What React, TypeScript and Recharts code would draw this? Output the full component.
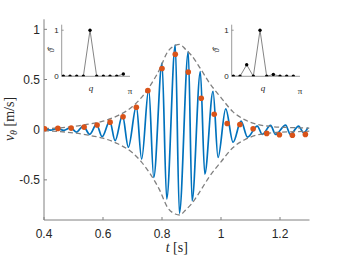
import React from 'react';
import { ComposedChart, LineChart, Line, Scatter, XAxis, YAxis, Label } from 'recharts';

// ---- main signal (peaks / troughs) ----
const signalT = [0.4, 0.423, 0.445, 0.467, 0.49, 0.51, 0.533, 0.555, 0.578, 0.597, 0.623, 0.641, 0.666, 0.686, 0.713, 0.731, 0.755, 0.772, 0.8, 0.816, 0.845, 0.859, 0.889, 0.902, 0.93, 0.945, 0.973, 0.99, 1.016, 1.041, 1.068, 1.09, 1.123, 1.14, 1.168, 1.185, 1.219, 1.235, 1.263, 1.28, 1.295];
const signalV = [0.0, -0.005, 0.013, -0.007, 0.02, -0.024, 0.036, -0.047, 0.052, -0.07, 0.085, -0.11, 0.142, -0.175, 0.234, -0.294, 0.406, -0.475, 0.663, -0.69, 0.845, -0.832, 0.778, -0.707, 0.58, -0.443, 0.382, -0.277, 0.208, -0.125, 0.085, -0.075, 0.036, -0.047, 0.043, -0.047, 0.046, -0.047, 0.036, -0.03, 0.02];

// ---- envelope ----
const envT = [0.4, 0.45, 0.5, 0.55, 0.6, 0.65, 0.7, 0.73, 0.76, 0.79, 0.82, 0.845, 0.86, 0.88, 0.9, 0.93, 0.96, 1.0, 1.04, 1.08, 1.12, 1.16, 1.2, 1.25, 1.3];
const envV = [0.01, 0.018, 0.032, 0.055, 0.085, 0.14, 0.23, 0.32, 0.44, 0.59, 0.78, 0.84, 0.85, 0.8, 0.74, 0.61, 0.47, 0.32, 0.18, 0.1, 0.055, 0.035, 0.025, 0.02, 0.015];

// ---- orange markers ----
const dotT = [0.402, 0.447, 0.492, 0.536, 0.58, 0.624, 0.668, 0.713, 0.752, 0.8, 0.845, 0.889, 0.933, 0.977, 1.021, 1.064, 1.109, 1.155, 1.198, 1.242, 1.286];
const dotV = [0.01, 0.013, 0.016, 0.026, 0.046, 0.075, 0.129, 0.224, 0.389, 0.61, 0.752, 0.574, 0.313, 0.154, 0.062, 0.052, 0.01, -0.037, -0.05, -0.056, -0.047];

const xTicks = [0.4, 0.6, 0.8, 1, 1.2];
const yTicks = [-0.5, 0, 0.5, 1];

// ---- insets ----
const insetQ = [0, 1, 2, 3, 4, 5, 6, 7, 8, 9];
const insetLeftV = [0, 0, 0, 0, 1, 0, 0, 0, 0, 0.05];
const insetRightV = [0, 0, 0.25, 0, 1, 0, 0.04, 0, 0, 0];
const insetXTicks = [10];
const insetYTicks = [0, 1];

const signal = signalT.map((t, i) => ({ t, v: signalV[i] }));
const envelope = envT.map((t, i) => ({ t, e: envV[i] }));
const dots = dotT.map((t, i) => ({ t, v: dotV[i] }));

const AXIS = '#808080';
const TXT = '#262626';
const SANS = 'Liberation Sans, Arial, sans-serif';
const SERIF = 'Liberation Serif, Times New Roman, serif';

const noTick = () => <g />;

const XTitle = (props: any) => {
  const vb = props.viewBox || { x: 44, width: 265 };
  return (
    <text x={vb.x + vb.width / 2} y={251.5} textAnchor="middle" fontFamily={SERIF} fontSize={14} fill={TXT}>
      <tspan fontStyle="italic">t</tspan> [s]
    </text>
  );
};

const YTitle = () => {
  const cx = 13.5;
  const cy = 119;
  return (
    <text transform={`rotate(-90 ${cx} ${cy})`} x={cx} y={cy} textAnchor="middle" fontFamily={SERIF} fontSize={14} fill={TXT}>
      <tspan fontStyle="italic">v</tspan>
      <tspan fontStyle="italic" fontSize={10} dy={3}>θ</tspan>
      <tspan dy={-3}> [m/s]</tspan>
    </text>
  );
};

const OrangeDot = (props: any) => <circle cx={props.cx} cy={props.cy} r={2.8} fill="#D95319" />;

function Inset({ values, left, thetaX, qX }: { values: number[]; left: number; thetaX: number; qX: number }) {
  const data = insetQ.map((q, i) => ({ q, v: values[i] }));
  const QTitle = () => (
    <text x={qX} y={75} textAnchor="middle" fontFamily={SERIF} fontStyle="italic" fontSize={9} fill={TXT}>q</text>
  );
  const ThTitle = () => {
    const cy = 34.5;
    return (
      <text transform={`rotate(-90 ${thetaX} ${cy})`} x={thetaX} y={cy} textAnchor="middle" fontFamily={SERIF} fontSize={9} fill={TXT}>ϑ̂</text>
    );
  };
  return (
    <div style={{ position: 'absolute', left, top: 16 }}>
      <LineChart width={100} height={82} data={data} margin={{ top: 8.7, right: 6, bottom: 0, left: 0 }}>
        <XAxis dataKey="q" type="number" domain={[-0.25, 10]} ticks={insetXTicks} allowDataOverflow
          tickFormatter={() => 'π'} height={21.7} tickLine={false} stroke={AXIS} strokeWidth={0.8}
          tickMargin={5.6} tick={{ fill: TXT, fontSize: 9, fontFamily: SERIF }}>
          <Label content={QTitle} />
        </XAxis>
        <YAxis type="number" domain={[0, 1.12]} ticks={insetYTicks} allowDataOverflow width={25.7}
          tickSize={-2} tickMargin={5} stroke={AXIS} strokeWidth={0.8}
          tick={{ fill: TXT, fontSize: 8, fontFamily: SANS }}>
          <Label content={ThTitle} />
        </YAxis>
        <Line dataKey="v" type="linear" stroke="#666" strokeWidth={0.8}
          dot={{ r: 1.7, fill: '#000', stroke: 'none' }} isAnimationActive={false} />
      </LineChart>
    </div>
  );
}

export default function App() {
  return (
    <div style={{ position: 'absolute', left: 0, top: 0, width: 342, height: 256, background: '#fff' }}>
      <ComposedChart width={342} height={256} margin={{ top: 19.3, right: 32.5, bottom: 0, left: 4 }}>
        <XAxis xAxisId="b" type="number" dataKey="t" domain={[0.4, 1.3]} ticks={xTicks} allowDataOverflow
          height={36} tickSize={-3} tickMargin={12.7} stroke={AXIS}
          tick={{ fill: TXT, fontSize: 12, fontFamily: SANS }}>
          <Label content={XTitle} />
        </XAxis>
        <XAxis xAxisId="top" orientation="top" type="number" dataKey="t" domain={[0.4, 1.3]} ticks={xTicks}
          allowDataOverflow height={0} tickSize={-3} stroke={AXIS} tick={noTick} />
        <YAxis yAxisId="l" type="number" domain={[-0.9, 1.1]} ticks={yTicks} allowDataOverflow width={40}
          tickSize={-3} tickMargin={7} stroke={AXIS} tick={{ fill: TXT, fontSize: 12, fontFamily: SANS }}>
          <Label content={YTitle} />
        </YAxis>
        <YAxis yAxisId="r" orientation="right" type="number" domain={[-0.9, 1.1]} ticks={yTicks} allowDataOverflow
          width={0} tickSize={-3} stroke={AXIS} tick={noTick} />
        <Line xAxisId="b" yAxisId="l" data={signal} dataKey="v" type="monotone" stroke="#0072BD"
          strokeWidth={1.7} dot={false} isAnimationActive={false} />
        <Line xAxisId="b" yAxisId="l" data={envelope} dataKey="e" type="monotone" stroke={AXIS}
          strokeWidth={1.3} strokeDasharray="5 3" dot={false} isAnimationActive={false} />
        <Line xAxisId="b" yAxisId="l" data={envelope} dataKey={(d: any) => -d.e} type="monotone" stroke={AXIS}
          strokeWidth={1.3} strokeDasharray="5 3" dot={false} isAnimationActive={false} />
        <Scatter xAxisId="b" yAxisId="l" data={dots} dataKey="v" shape={OrangeDot} isAnimationActive={false} />
      </ComposedChart>
      <Inset values={insetLeftV} left={36} thetaX={17.5} qX={55} />
      <Inset values={insetRightV} left={206} thetaX={12.5} qX={57} />
    </div>
  );
}
